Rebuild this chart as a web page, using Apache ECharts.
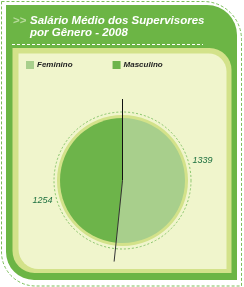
<!DOCTYPE html>
<html><head><meta charset="utf-8">
<script src="https://cdn.jsdelivr.net/npm/echarts@6/dist/echarts.min.js"></script>
<style>html,body{margin:0;padding:0;background:#fff}#c{width:244px;height:287px}</style>
</head><body><div id="c"></div>
<script>
const titleLines = ['Salário Médio dos Supervisores', 'por Gênero - 2008'];
const categories = ['Feminino', 'Masculino'];
const values = [1339, 1254];
const colors = ['#a8cf8c', '#6db44a'];

const CX = 122.5, CY = 180.5, R = 62.5;
const total = values.reduce((a, b) => a + b, 0);
const FONT = 'Liberation Sans';

const boundary = values[0] / total * 2 * Math.PI;
const lineLen = 81.5;
function polar(theta, d) { return [CX + Math.sin(theta) * d, CY - Math.cos(theta) * d]; }
const topEnd = polar(0, lineLen);
const botEnd = polar(boundary, lineLen);

function labelPos(idx) {
  let start = 0;
  for (let i = 0; i < idx; i++) start += values[i];
  const mid = (start + values[idx] / 2) / total * 2 * Math.PI - 17 * Math.PI / 180;
  return polar(mid, 82.5);
}

const chart = echarts.init(document.getElementById('c'), null, {renderer: 'canvas'});
chart.setOption({
  backgroundColor: '#ffffff',
  animation: false,
  title: [
    {text: '>>', left: 8, top: 10, textStyle: {color: '#b9dc9c', fontSize: 11.5, fontWeight: 'bold', fontFamily: FONT, lineHeight: 12}},
    {text: titleLines.join('\n'), left: 25, top: 10,
     textStyle: {color: '#ffffff', fontSize: 11.5, fontWeight: 'bold', fontStyle: 'italic', fontFamily: FONT, lineHeight: 12}}
  ],
  legend: {
    data: categories, left: 21, top: 56, itemWidth: 8, itemHeight: 8, itemGap: 40, icon: 'rect',
    textStyle: {color: '#222', fontSize: 8, fontWeight: 'bold', fontStyle: 'italic', fontFamily: FONT, padding: [0, 0, 0, -2]}
  },
  graphic: [
    {type: 'rect', z: -10, shape: {x: 1.5, y: 1.5, width: 240, height: 284.5, r: [0, 38, 0, 34]},
     style: {fill: '#ffffff', stroke: '#7cbf5a', lineWidth: 1, lineDash: [3, 2]}},
    {type: 'rect', z: -9, shape: {x: 6, y: 5, width: 231, height: 275, r: [0, 30, 0, 28]}, style: {fill: '#6cb545'}},
    {type: 'rect', z: -8, shape: {x: 12.5, y: 48, width: 219, height: 225, r: [0, 22, 0, 22]}, style: {fill: '#d3e28a'}},
    {type: 'rect', z: -7, shape: {x: 18.5, y: 53.5, width: 208, height: 215.5, r: [0, 18, 0, 20]}, style: {fill: '#f0f5cc'}},
    {type: 'line', z: -6, shape: {x1: 12, y1: 44.5, x2: 203, y2: 44.5}, style: {stroke: '#ffffff', lineWidth: 1, lineDash: [3, 2]}},
    {type: 'circle', z: -5, shape: {cx: CX, cy: CY, r: 68.5}, style: {fill: 'none', stroke: '#86c46a', lineWidth: 1, lineDash: [2, 2]}},
    {type: 'circle', z: -4, shape: {cx: CX, cy: CY, r: 65.5}, style: {fill: '#d3e28a'}},
    {type: 'line', z: 100, shape: {x1: topEnd[0], y1: topEnd[1], x2: CX, y2: CY}, style: {stroke: '#111', lineWidth: 1}},
    {type: 'line', z: 100, shape: {x1: CX, y1: CY, x2: botEnd[0], y2: botEnd[1]}, style: {stroke: '#333', lineWidth: 1}}
  ],
  series: [{
    type: 'pie', center: [CX, CY], radius: R, startAngle: 90, clockwise: true,
    color: colors, silent: true, avoidLabelOverlap: false,
    data: categories.map((c, i) => ({name: c, value: values[i]})),
    itemStyle: {borderWidth: 0},
    label: {show: true, position: 'outside', formatter: '{c}', color: '#1b6f3e', fontSize: 9, fontStyle: 'italic', fontFamily: FONT},
    labelLine: {show: false, length: 5, length2: 0},
    labelLayout: function (p) {
      let idx = p.dataIndex;
      if (idx == null) idx = values.map(String).indexOf(String(p.text));
      if (idx < 0 || idx == null) return {};
      const pt = labelPos(idx);
      return {x: pt[0], y: pt[1], align: 'center', verticalAlign: 'middle'};
    }
  }]
});
</script></body></html>
